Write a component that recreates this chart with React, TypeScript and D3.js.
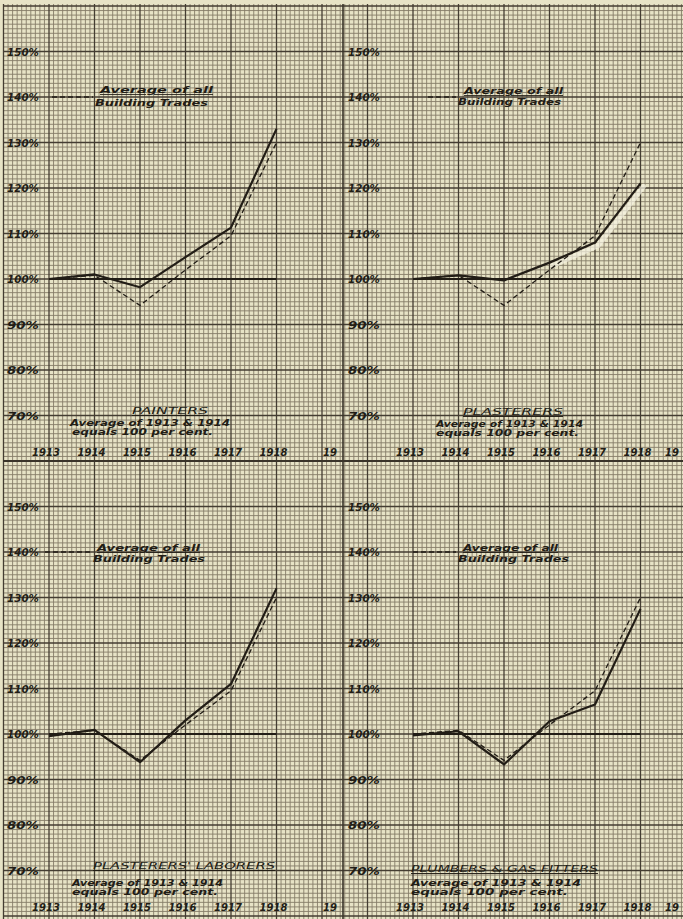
import React from "react";
import * as d3 from "d3";

// ---------- data ----------
const YEARS = [1913, 1914, 1915, 1916, 1917, 1918];
const YEAR_LABELS = ["1913", "1914", "1915", "1916", "1917", "1918"];
const PCT_TICKS = [150, 140, 130, 120, 110, 100, 90, 80, 70];

const AVG_ALL_TRADES = [100, 100.8, 94.2, 102, 109.5, 130];
const PAINTERS = [100, 101, 98.2, 104.8, 111.3, 133];
const PLASTERERS = [100, 100.8, 99.7, 103.6, 108, 121];
const PLASTERERS_LABORERS = [99.5, 100.9, 93.8, 103, 111, 132];
const PLUMBERS_GAS_FITTERS = [99.7, 100.6, 93.3, 102.8, 106.5, 127.5];

const TITLES = ["PAINTERS", "PLASTERERS", "PLASTERERS' LABORERS", "PLUMBERS & GAS FITTERS"];
const SUB1 = "Average of 1913 & 1914";
const SUB2 = "equals 100 per cent.";
const LEG1 = "Average of all";
const LEG2 = "Building Trades";

// ---------- layout ----------
const W = 683;
const H = 919;
const MAJOR = 45.5;
const MINOR = MAJOR / 10;
const X_1913 = 49;
const Y_100 = 279;
const PAPER = "#e7e3c6";

const PANELS = [
  {
    series: PAINTERS, title: TITLES[0], dx: 0, dy: 0, labelX: 7, clipR: 341, erase: false,
    t: { x: 132, y: 414, len: 76 }, s1: { x: 70, y: 426, len: 160 }, s2: { x: 72, y: 435, len: 141 },
    l1: { x: 100, y: 93, len: 113 }, l2: { x: 95, y: 106, len: 113 }, dash: [52, 93],
  },
  {
    series: PLASTERERS, title: TITLES[1], dx: 364, dy: 0, labelX: 348, clipR: 683, erase: true,
    t: { x: 463, y: 415, len: 100 }, s1: { x: 436, y: 427, len: 147 }, s2: { x: 436, y: 436, len: 143 },
    l1: { x: 464, y: 94, len: 99 }, l2: { x: 458, y: 105, len: 103 }, dash: [428, 456],
  },
  {
    series: PLASTERERS_LABORERS, title: TITLES[2], dx: 0, dy: 455, labelX: 7, clipR: 341, erase: false,
    t: { x: 93, y: 869, len: 182 }, s1: { x: 72, y: 886, len: 151 }, s2: { x: 72, y: 895, len: 146 },
    l1: { x: 97, y: 551, len: 103 }, l2: { x: 93, y: 562, len: 112 }, dash: [45, 92],
  },
  {
    series: PLUMBERS_GAS_FITTERS, title: TITLES[3], dx: 364, dy: 455, labelX: 348, clipR: 683, erase: false,
    t: { x: 411, y: 872, len: 187 }, s1: { x: 411, y: 886, len: 170 }, s2: { x: 411, y: 895, len: 157 },
    l1: { x: 463, y: 551, len: 95 }, l2: { x: 458, y: 562, len: 111 }, dash: [413, 456],
  },
];

const INK = "#221d16";
const FONT = "'DejaVu Sans', sans-serif";

function Grid() {
  const minorV: number[] = [];
  const majorV: number[] = [];
  for (let k = -20; k < 200; k++) {
    const x = X_1913 + k * MINOR;
    if (x < 3 || x > W) continue;
    if (k % 10 === 0) majorV.push(x);
    else minorV.push(x);
  }
  const minorH: number[] = [];
  const majorH: number[] = [];
  for (let k = -200; k < 200; k++) {
    const y = Y_100 + k * MINOR;
    if (y < 4 || y > H) continue;
    if (k % 10 === 0) majorH.push(y);
    else minorH.push(y);
  }
  return (
    <g>
      {minorV.map((x, i) => (
        <line key={"mv" + i} x1={x} x2={x} y1={4} y2={H} stroke="#857c68" strokeWidth={0.9} />
      ))}
      {minorH.map((y, i) => (
        <line key={"mh" + i} x1={3} x2={W} y1={y} y2={y} stroke="#857c68" strokeWidth={0.9} />
      ))}
      {majorV.map((x, i) => (
        <line key={"MV" + i} x1={x} x2={x} y1={4} y2={H} stroke="#443d32" strokeWidth={1.3} />
      ))}
      {majorH.map((y, i) => (
        <line key={"MH" + i} x1={3} x2={W} y1={y} y2={y} stroke="#443d32" strokeWidth={1.3} />
      ))}
      {/* sheet seams */}
      <line x1={343} x2={343} y1={4} y2={H} stroke="#3a342a" strokeWidth={1.6} />
      <line x1={3} x2={W} y1={Y_100 + 4 * MAJOR} y2={Y_100 + 4 * MAJOR} stroke="#3a342a" strokeWidth={2} />
    </g>
  );
}

function Panel({ p, idx }: { p: any; idx: number }) {
  const x = d3
    .scaleLinear()
    .domain([1913, 1918])
    .range([X_1913 + p.dx, X_1913 + p.dx + 5 * MAJOR]);
  const y = d3
    .scaleLinear()
    .domain([100, 150])
    .range([Y_100 + p.dy, Y_100 + p.dy - 5 * MAJOR]);
  const line = d3
    .line<number>()
    .x((_, i) => x(YEARS[i]))
    .y((v) => y(v));
  const yearRowY = y(70) + 40;
  const txt = {
    fontFamily: FONT,
    fontStyle: "italic",
    fontWeight: 700,
    fill: INK,
  } as const;
  // erased smear (light) alongside the last segments of the solid line
  const eraseLine = d3
    .line<number>()
    .x((_, i) => x(YEARS[i + 3]) + 3)
    .y((v) => y(v) + 3);
  return (
    <g>
      <defs>
        <clipPath id={"clip" + idx}>
          <rect x={p.dx === 0 ? 0 : 341} y={p.dy === 0 ? 0 : 461} width={p.dx === 0 ? 341 : 342} height={p.dy === 0 ? 461 : 458} />
        </clipPath>
      </defs>
      <g clipPath={`url(#clip${idx})`}>
        {p.erase && (
          <path d={eraseLine(p.series.slice(3)) || ""} fill="none" stroke="#f6f3e2" strokeWidth={5} strokeLinecap="round" opacity={0.7} />
        )}
        {/* y tick labels */}
        {PCT_TICKS.map((t) => (
          <text key={t} x={p.labelX} y={y(t) + 4} fontSize={10.5} textLength={32} lengthAdjust="spacingAndGlyphs" style={txt}>
            {t + "%"}
          </text>
        ))}
        {/* year labels */}
        {YEAR_LABELS.map((lab, i) => (
          <text key={lab} x={x(YEARS[i]) - 3} y={yearRowY} fontSize={10} textAnchor="middle" style={txt}>
            {lab}
          </text>
        ))}
        <text x={p.clipR - 4} y={yearRowY} fontSize={10} textAnchor="end" style={txt}>
          19
        </text>
        {/* 100% base line */}
        <line x1={x(1913)} x2={x(1918)} y1={y(100)} y2={y(100)} stroke={INK} strokeWidth={1.8} />
        {/* legend for dashed */}
        <line x1={p.dash[0]} x2={p.dash[1]} y1={y(140)} y2={y(140)} stroke={INK} strokeWidth={1.4} strokeDasharray="5,3" />
        <text x={p.l1.x} y={p.l1.y} fontSize={8.5} textLength={p.l1.len} lengthAdjust="spacingAndGlyphs" style={txt} textDecoration="underline">
          {LEG1}
        </text>
        <text x={p.l2.x} y={p.l2.y} fontSize={8.5} textLength={p.l2.len} lengthAdjust="spacingAndGlyphs" style={txt}>
          {LEG2}
        </text>
        {/* titles */}
        <text x={p.t.x} y={p.t.y} fontSize={9.5} textLength={p.t.len} lengthAdjust="spacingAndGlyphs" style={{ ...txt, fontWeight: 400 }} textDecoration="underline">
          {p.title}
        </text>
        <text x={p.s1.x} y={p.s1.y} fontSize={8.5} textLength={p.s1.len} lengthAdjust="spacingAndGlyphs" style={txt}>
          {SUB1}
        </text>
        <text x={p.s2.x} y={p.s2.y} fontSize={8.5} textLength={p.s2.len} lengthAdjust="spacingAndGlyphs" style={txt}>
          {SUB2}
        </text>
        {/* series */}
        <path d={line(AVG_ALL_TRADES) || ""} fill="none" stroke={INK} strokeWidth={1.3} strokeDasharray="5,3" />
        <path d={line(p.series) || ""} fill="none" stroke={INK} strokeWidth={2.2} strokeLinejoin="round" />
      </g>
    </g>
  );
}

export default function App() {
  return (
    <svg
      width={W}
      height={H}
      viewBox={`0 0 ${W} ${H}`}
      style={{ position: "absolute", left: 0, top: 0, background: PAPER }}
    >
      <rect x={0} y={0} width={W} height={H} fill={PAPER} />
      <Grid />
      {PANELS.map((p, i) => (
        <Panel key={i} p={p} idx={i} />
      ))}
    </svg>
  );
}
